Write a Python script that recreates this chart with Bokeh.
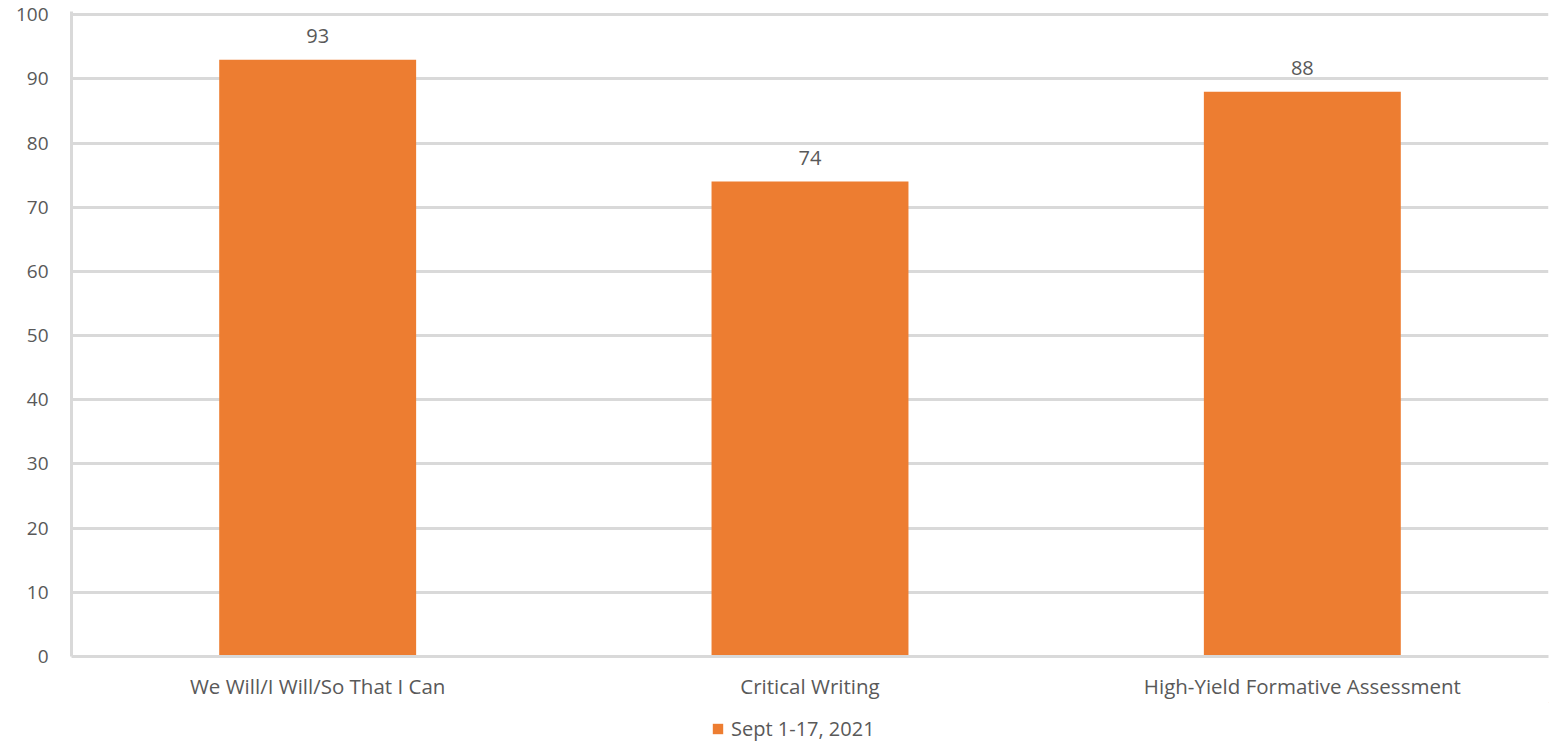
from bokeh.plotting import figure
from bokeh.layouts import column
from bokeh.models import ColumnDataSource, Legend, LegendItem, Range1d, FactorRange, LabelSet
from bokeh.core.properties import value
from bokeh.embed import file_html
from bokeh.resources import INLINE

categories = ["We Will/I Will/So That I Can", "Critical Writing", "High-Yield Formative Assessment"]
values = [93, 74, 88]
series_name = "Sept 1-17, 2021"
y_ticks = list(range(0, 101, 10))

FONT = "Open Sans"
TXT = "#595959"
GRID = "#d9d9d9"
ORANGE = "#ED7D31"

src = ColumnDataSource(dict(cat=categories, val=values, lbl=[str(v) for v in values]))

p = figure(x_range=FactorRange(*categories), y_range=Range1d(0, 100.5),
           frame_width=1477, frame_height=645, output_backend="svg", toolbar_location=None,
           min_border_left=71, min_border_right=1, min_border_top=11, min_border_bottom=45)

r = p.vbar(x="cat", top="val", width=0.4, source=src, color=ORANGE, line_color=None)

labels = LabelSet(x="cat", y="val", text="lbl", source=src, text_align="center",
                  text_baseline="bottom", y_offset=17, text_font=value(FONT),
                  text_font_size=value("20px"), text_color=TXT)
p.add_layout(labels)

p.outline_line_color = None
p.xgrid.grid_line_color = None
p.ygrid.grid_line_color = GRID
p.ygrid.grid_line_width = 3
p.yaxis.ticker = y_ticks

for ax in (p.xaxis, p.yaxis):
    ax.axis_line_color = GRID
    ax.axis_line_width = 3
    ax.major_tick_line_color = None
    ax.minor_tick_line_color = None
    ax.major_label_text_font = FONT
    ax.major_label_text_color = TXT
p.yaxis.major_label_text_font_size = "19px"
p.xaxis.major_label_text_font_size = "20.5px"
p.yaxis.major_label_standoff = 17
p.xaxis.major_label_standoff = 9

# legend strip below the chart
p2 = figure(width=1549, height=45, output_backend="svg", toolbar_location=None,
            x_range=Range1d(0, 1), y_range=Range1d(0, 1),
            x_axis_type=None, y_axis_type=None,
            min_border_left=0, min_border_right=0, min_border_top=0, min_border_bottom=0)
p2.outline_line_color = None
p2.grid.grid_line_color = None
lr = p2.vbar(x=[5], top=[5], bottom=[4], width=1, color=ORANGE, line_color=None)

legend = Legend(items=[LegendItem(label=series_name, renderers=[lr])],
                location=(640, 5), orientation="horizontal",
                label_text_font=FONT, label_text_font_size="20px", label_text_color=TXT,
                glyph_width=13, glyph_height=13, border_line_color=None,
                background_fill_alpha=0, margin=0, padding=0, label_standoff=7)
p2.add_layout(legend, "center")

layout = column(p, p2, spacing=0)
open("out.html", "w").write(file_html(layout, INLINE))
